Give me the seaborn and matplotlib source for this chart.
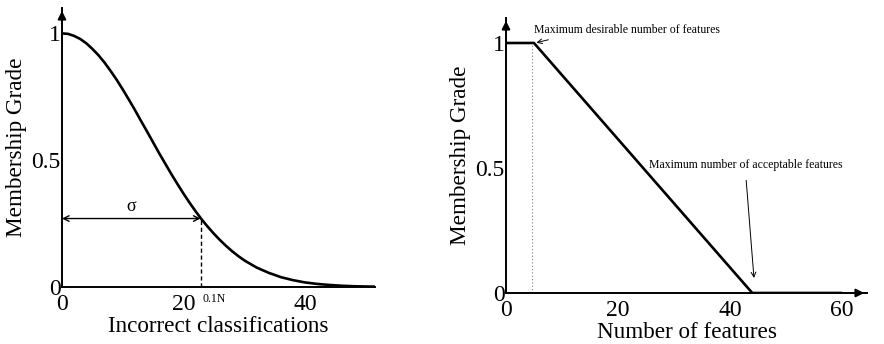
import matplotlib
matplotlib.use("Agg")
import matplotlib.pyplot as plt
import seaborn as sns
import pandas as pd

# Gaussian membership of the classification error
errors = [0, 1, 2, 3, 4, 5, 6, 7, 8, 9, 10, 11, 12, 13, 14, 15, 16, 17, 18,
          19, 20, 21, 22, 23, 24, 25, 26, 27, 28, 29, 30, 32, 34, 36, 38, 40,
          42, 44, 46, 48, 50, 52]
error_grade = [1.0, 0.998, 0.990, 0.978, 0.961, 0.939, 0.914, 0.885, 0.852,
               0.817, 0.779, 0.739, 0.698, 0.655, 0.613, 0.570, 0.527, 0.486,
               0.445, 0.406, 0.368, 0.332, 0.298, 0.266, 0.237, 0.210, 0.185,
               0.162, 0.141, 0.122, 0.105, 0.077, 0.056, 0.039, 0.027, 0.018,
               0.012, 0.008, 0.005, 0.003, 0.002, 0.001]
sigma_x = 22.8
sigma_grade = 0.27

# Trapezoidal membership of the feature count
features = [0, 5, 44, 60]
feature_grade = [1, 1, 0, 0]
desirable_max = 5
acceptable_max = 44

left_xticks = [0, 20, 40]
right_xticks = [0, 20, 40, 60]
yticks = [0, 0.5, 1]
ytick_labels = ["0", "0.5", "1"]

sns.set_theme(style="white")
plt.rcParams["font.family"] = ["Liberation Serif", "DejaVu Serif"]
plt.rcParams["text.color"] = "black"
plt.rcParams["axes.labelcolor"] = "black"
plt.rcParams["xtick.color"] = "black"
plt.rcParams["ytick.color"] = "black"

fig = plt.figure(figsize=(8.84, 3.44), dpi=100)
ax1 = fig.add_axes([0.0701, 0.1657, 0.3541, 0.8110])
ax2 = fig.add_axes([0.5724, 0.1483, 0.4084, 0.7994])

df1 = pd.DataFrame({"x": errors, "y": error_grade})
df2 = pd.DataFrame({"x": features, "y": feature_grade})

sns.lineplot(data=df1, x="x", y="y", ax=ax1, color="black", lw=1.9)
sns.lineplot(data=df2, x="x", y="y", ax=ax2, color="black", lw=1.9)

for ax in (ax1, ax2):
    ax.set_ylim(0, 1.1)
    for s in ("top", "right"):
        ax.spines[s].set_visible(False)
    for s in ("left", "bottom"):
        ax.spines[s].set_color("black")
        ax.spines[s].set_linewidth(1.4)
    ax.set_yticks(yticks)
    ax.set_yticklabels(ytick_labels)
    ax.tick_params(direction="in", length=4, width=1, colors="black",
                   labelsize=17)
    ax.tick_params(axis="y", pad=1)
    ax.tick_params(axis="x", pad=5)
    ax.set_ylabel("Membership Grade", fontsize=16.7, labelpad=3)
    # arrow head on the vertical axis
    ax.annotate("", xy=(0, 1.0), xytext=(0, 0.97), xycoords="axes fraction",
                arrowprops=dict(arrowstyle="-|>", color="black", lw=1.4,
                                mutation_scale=12))

ax1.set_xlim(0, 51.5)
ax1.set_xticks(left_xticks)
ax1.set_xlabel("Incorrect classifications", fontsize=16.7, labelpad=1)

# sigma marker
ax1.annotate("", xy=(sigma_x, sigma_grade), xytext=(0, sigma_grade),
             arrowprops=dict(arrowstyle="<->", color="black", lw=1.0,
                             mutation_scale=10, shrinkA=0, shrinkB=0))
ax1.text(sigma_x / 2, sigma_grade + 0.015, "σ", fontsize=13,
         ha="center", va="bottom")
ax1.plot([sigma_x, sigma_x], [0, sigma_grade], color="black", lw=1.0,
         ls=(0, (3, 2)))
ax1.text(sigma_x + 0.4, -0.025, "0.1N", fontsize=8.5, ha="left", va="top")

ax2.set_xlim(0, 64.5)
ax2.set_xticks(right_xticks)
ax2.set_xlabel("Number of features", fontsize=16.7, labelpad=1)
ax2.annotate("", xy=(1.0, 0), xytext=(0.97, 0), xycoords="axes fraction",
             arrowprops=dict(arrowstyle="-|>", color="black", lw=1.4,
                             mutation_scale=12))
ax2.plot([desirable_max - 0.4, desirable_max - 0.4], [0, 1], color="gray",
         lw=0.8, ls=(0, (1, 2)))

ax2.annotate("Maximum desirable number of features",
             xy=(desirable_max + 0.2, 1.0), xytext=(5.0, 1.05),
             fontsize=8.5, va="center", ha="left",
             arrowprops=dict(arrowstyle="->", color="black", lw=0.7,
                             shrinkA=0, shrinkB=1,
                             relpos=(0.15, 0.0)))
ax2.annotate("Maximum number of acceptable features",
             xy=(acceptable_max + 0.3, 0.06), xytext=(25.5, 0.51),
             fontsize=8.5, va="center", ha="left",
             arrowprops=dict(arrowstyle="->", color="black", lw=0.7,
                             shrinkA=4, shrinkB=0,
                             relpos=(0.5, 0.0)))

fig.savefig("out.png", dpi=100)
